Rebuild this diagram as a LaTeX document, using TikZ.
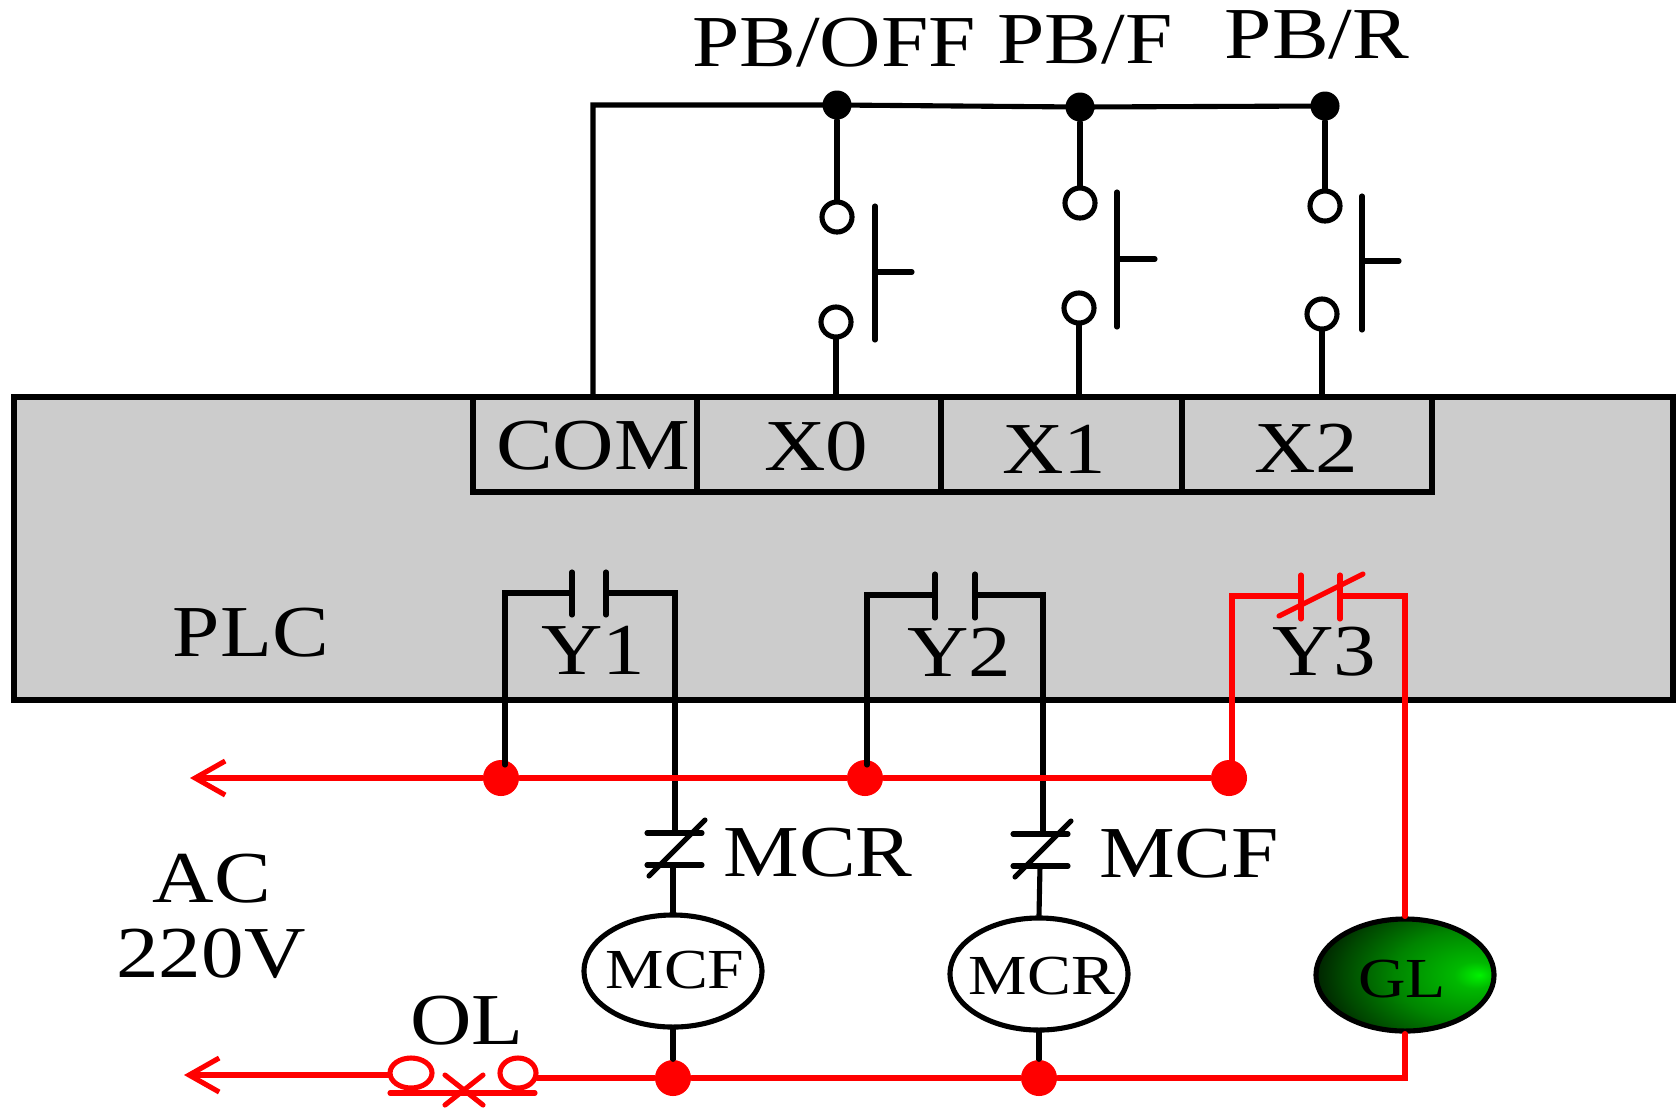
\documentclass[tikz,border=0pt]{standalone}
\usepackage{fontspec}
\setmainfont{Liberation Serif}
\usepackage{tikz}
\usetikzlibrary{shapes}
\usetikzlibrary{arrows.meta}
\newcommand{\squash}[1]{\scalebox{1}[0.86]{#1}}
\pgfdeclareradialshading{glshade}{\pgfpoint{21bp}{0bp}}{
  color(0bp)=(green!95!black);
  color(6bp)=(green!72!black);
  color(20bp)=(green!52!black);
  color(32bp)=(green!28!black);
  color(44bp)=(black);
  color(100bp)=(black)}
\begin{document}
\begin{tikzpicture}[x=0.01cm,y=-0.01cm,line cap=round]
        \tikzstyle{wire} = [line width=1.45pt]
        \tikzstyle{redwire} = [line width=1.45pt,red]
        \tikzstyle{dot} = [circle,fill=black,inner sep=0pt,minimum size=0.29cm]
        \tikzstyle{reddot} = [circle,fill=red,inner sep=0pt,minimum size=0.36cm]
        \tikzstyle{pin} = [circle,draw,fill=white,line width=1.45pt,inner sep=0pt,minimum size=0.3cm]
        \tikzstyle{coil} = [ellipse,draw,fill=white,line width=1.45pt,inner sep=0pt,minimum width=1.78cm,minimum height=1.12cm]
        \tikzstyle{bigtext} = [inner sep=0pt,font=\fontsize{24.2}{26}\selectfont]
        \tikzstyle{coiltext} = [inner sep=0pt,font=\fontsize{18.7}{20}\selectfont]
        \useasboundingbox (0,0) rectangle (1676,1108);
        % PLC body and input terminals
        \filldraw[wire,fill=black!20] (14,397) rectangle (1673,700);
        \draw[wire] (473,397) rectangle (1432,492);
        \draw[wire] (697,397)--(697,492);
        \draw[wire] (941,397)--(941,492);
        \draw[wire] (1182,397)--(1182,492);
        \node[bigtext] (comlabel) at (593,446) {\squash{COM}};
        \node[bigtext] (xzerolabel) at (816,447) {\squash{X0}};
        \node[bigtext] (xonelabel) at (1054,449) {\squash{X1}};
        \node[bigtext] (xtwolabel) at (1306,448) {\squash{X2}};
        \node[bigtext] (plclabel) at (251,633) {\squash{PLC}};
        \node[bigtext] (yonelabel) at (593,650) {\squash{Y1}};
        \node[bigtext] (ytwolabel) at (959,652) {\squash{Y2}};
        \node[bigtext] (ythreelabel) at (1324,652) {\squash{Y3}};
        % push buttons
        \node[dot] (offdot) at (837,105) {};
        \node[dot] (fdot) at (1080,107) {};
        \node[dot] (rdot) at (1325,106) {};
        \node[pin] (offtop) at (837,217) {};
        \node[pin] (offbot) at (836,322) {};
        \node[pin] (ftop) at (1080,203) {};
        \node[pin] (fbot) at (1079,308) {};
        \node[pin] (rtop) at (1325,206) {};
        \node[pin] (rbot) at (1322,314) {};
        \coordinate (comtop) at (593,397);
        \coordinate (comcorner) at (593,105);
        \coordinate (xzerotop) at (836,397);
        \coordinate (xonetop) at (1079,397);
        \coordinate (xtwotop) at (1322,397);
        \draw[wire] (comtop)--(comcorner)--(offdot.center)--(fdot.center)--(rdot.center);
        \draw[wire] (offdot)--(offtop);
        \draw[wire] (offbot)--(xzerotop);
        \draw[wire] (fdot)--(ftop);
        \draw[wire] (fbot)--(xonetop);
        \draw[wire] (rdot)--(rtop);
        \draw[wire] (rbot)--(xtwotop);
        \draw[wire] (875,206)--(875,340);
        \draw[wire] (875,272)--(912,272);
        \draw[wire] (1117,192)--(1117,327);
        \draw[wire] (1117,259)--(1155,259);
        \draw[wire] (1362,196)--(1362,330);
        \draw[wire] (1362,261)--(1399,261);
        \node[bigtext] (pboff) at (834,43) {\squash{PB/OFF}};
        \node[bigtext] (pbf) at (1085,40) {\squash{PB/F}};
        \node[bigtext] (pbr) at (1317,35) {\squash{PB/R}};
        % coils
        \node[coil] (mcfcoil) at (673,971) {};
        \node[coil] (mcrcoil) at (1039,974) {};
        \node[coil,shading=glshade] (glcoil) at (1405,975) {};
        \node[coiltext] (mcfcoillabel) at (675,970) {\squash{MCF}};
        \node[coiltext] (mcrcoillabel) at (1042,976) {\squash{MCR}};
        \node[coiltext] (glcoillabel) at (1402,979) {\squash{GL}};
        % red supply rails
        \node[reddot] (railone) at (501,778) {};
        \node[reddot] (railtwo) at (865,778) {};
        \node[reddot] (railthree) at (1229,778) {};
        \node[reddot] (lowone) at (673,1078) {};
        \node[reddot] (lowtwo) at (1039,1078) {};
        \coordinate (railend) at (190,778);
        \coordinate (lowend) at (184,1075);
        % Y1 output
        \coordinate (yonedrop) at (505,765);
        \coordinate (yoneleft) at (505,593);
        \coordinate (yoneright) at (675,593);
        \draw[wire] (yonedrop)--(yoneleft)--(572,593);
        \draw[wire] (606,593)--(yoneright)--(675,833);
        \draw[wire] (572,572)--(572,615);
        \draw[wire] (606,572)--(606,615);
        \draw[wire] (647,833)--(702,833);
        \draw[wire] (647,865)--(702,865);
        \draw[wire] (649,876)--(705,820);
        \draw[wire] (673,865)--(mcfcoil.north);
        \draw[wire] (mcfcoil.south)--(lowone);
        % Y2 output
        \coordinate (ytwodrop) at (867,765);
        \coordinate (ytwoleft) at (867,595);
        \coordinate (ytworight) at (1043,595);
        \draw[wire] (ytwodrop)--(ytwoleft)--(935,595);
        \draw[wire] (975,595)--(ytworight)--(1043,834);
        \draw[wire] (935,574)--(935,618);
        \draw[wire] (975,574)--(975,618);
        \draw[wire] (1013,834)--(1068,834);
        \draw[wire] (1013,866)--(1068,866);
        \draw[wire] (1015,877)--(1071,821);
        \draw[wire] (1040,866)--(mcrcoil.north);
        \draw[wire] (mcrcoil.south)--(lowtwo);
        \node[bigtext] (mcrlabel) at (818,853) {\squash{MCR}};
        \node[bigtext] (mcflabel) at (1189,854) {\squash{MCF}};
        % Y3 output
        \coordinate (ythreedrop) at (1232,765);
        \coordinate (ythreeleft) at (1232,596);
        \coordinate (ythreeright) at (1405,596);
        \draw[redwire] (ythreedrop)--(ythreeleft)--(1301,596);
        \draw[redwire] (1340,596)--(ythreeright)--(glcoil.north);
        \draw[redwire] (1301,575)--(1301,619);
        \draw[redwire] (1340,575)--(1340,619);
        \draw[redwire] (1279,616)--(1363,574);
        \coordinate (glcorner) at (1405,1078);
        \draw[redwire] (glcoil.south)--(glcorner)--(lowtwo);
        % rails with arrows
        \draw[redwire,{Straight Barb[length=0.3cm,width=0.34cm]}-] (railend)--(railone);
        \draw[redwire] (railone)--(railtwo);
        \draw[redwire] (railtwo)--(railthree);
        \draw[redwire,{Straight Barb[length=0.3cm,width=0.34cm]}-] (lowend)--(390,1075);
        \draw[redwire] (537,1078)--(lowone);
        \draw[redwire] (lowone)--(lowtwo);
        % overload relay
        \draw[redwire] (411,1073) ellipse (21 and 15);
        \draw[redwire] (518,1073) ellipse (18 and 15);
        \draw[redwire] (390,1093)--(535,1093);
        \draw[redwire] (445,1075)--(483,1105);
        \draw[redwire] (445,1105)--(483,1075);
        % text labels
        \node[bigtext] (aclabel) at (212,879) {\squash{AC}};
        \node[bigtext] (vlabel) at (211,954) {\squash{220V}};
        \node[bigtext] (ollabel) at (467,1021) {\squash{OL}};
\end{tikzpicture}
\end{document}
